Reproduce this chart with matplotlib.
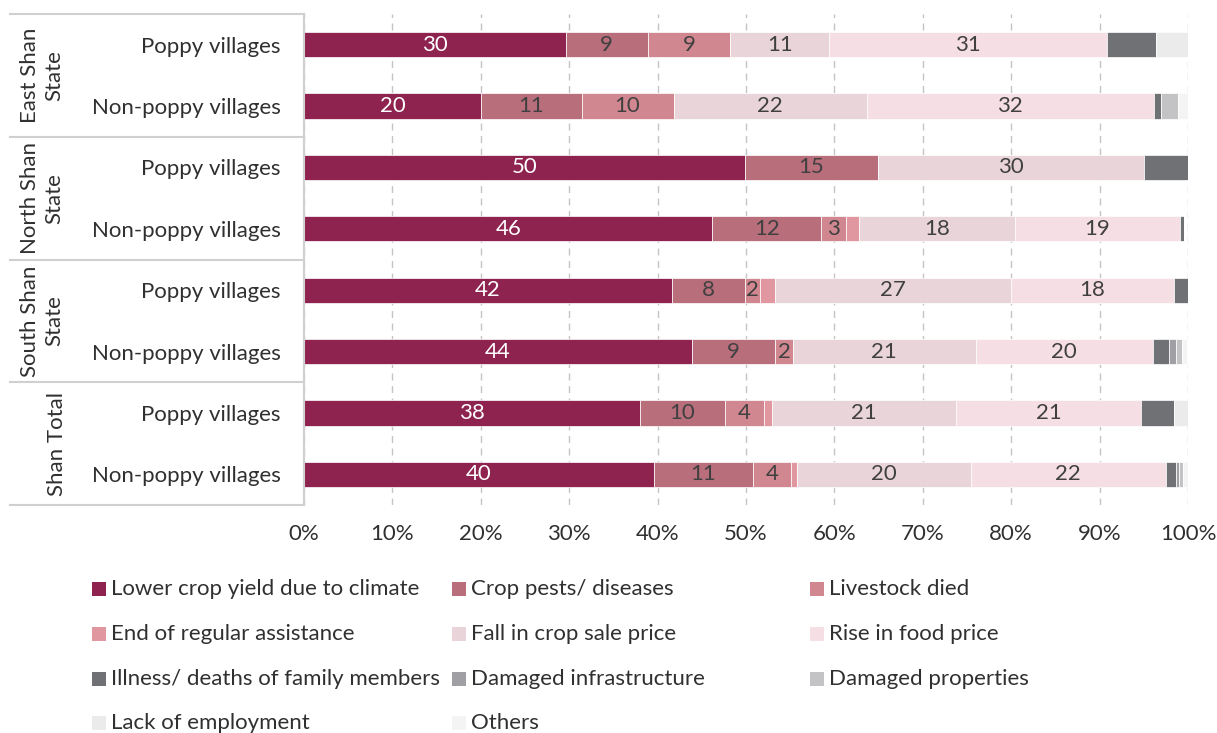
import matplotlib
matplotlib.use("Agg")
import matplotlib.pyplot as plt
import matplotlib.transforms as mtransforms
from matplotlib.lines import Line2D
from matplotlib.patches import Rectangle
import numpy as np

plt.rcParams['font.family'] = ['Lato', 'DejaVu Sans']

# Row groups and the two village types inside each
regions = ["East Shan\nState", "North Shan\nState", "South Shan\nState", "Shan Total"]
village_types = ["Poppy villages", "Non-poppy villages"]

causes = [
    "Lower crop yield due to climate", "Crop pests/ diseases", "Livestock died",
    "End of regular assistance", "Fall in crop sale price", "Rise in food price",
    "Illness/ deaths of family members", "Damaged infrastructure", "Damaged properties",
    "Lack of employment", "Others",
]
colors = [
    "#8E2350", "#B86E7B", "#D0878F",
    "#E0979F", "#E9D5D9", "#F5DEE4",
    "#707175", "#A0A0A4", "#C3C3C5",
    "#EBEBEB", "#F4F4F4",
]

# Share of households (%) per cause; order of rows:
# East P, East NP, North P, North NP, South P, South NP, Total P, Total NP
lower_yield = [29.6, 20.0, 49.9, 46.2, 41.6, 43.9, 38.0, 39.6]
pests       = [9.3, 11.4, 15.0, 12.3, 8.3, 9.4, 9.6, 11.2]
livestock   = [9.3, 10.4, 0.0, 2.8, 1.7, 2.0, 4.4, 4.3]
end_assist  = [0.0, 0.0, 0.0, 1.5, 1.7, 0.0, 0.9, 0.7]
fall_price  = [11.2, 21.9, 30.1, 17.6, 26.7, 20.7, 20.9, 19.6]
rise_price  = [31.4, 32.4, 0.0, 18.7, 18.4, 20.0, 20.9, 22.1]
illness     = [5.6, 0.9, 5.0, 0.5, 1.6, 1.9, 3.7, 1.1]
infra       = [0.0, 0.0, 0.0, 0.0, 0.0, 0.7, 0.0, 0.4]
properties  = [0.0, 1.9, 0.0, 0.0, 0.0, 0.7, 0.0, 0.4]
employment  = [3.6, 0.0, 0.0, 0.0, 0.0, 0.0, 1.6, 0.0]
others      = [0.0, 1.1, 0.0, 0.0, 0.0, 0.6, 0.0, 0.6]

series = [lower_yield, pests, livestock, end_assist, fall_price, rise_price,
          illness, infra, properties, employment, others]
labelled = {0, 1, 2, 4, 5}

W, H = 1217, 733
fig = plt.figure(figsize=(W / 100, H / 100), dpi=100)
ax = fig.add_axes([304 / W, 1 - 505 / H, (1188 - 304) / W, (505 - 14) / H])

n_rows = len(lower_yield)
y = np.arange(n_rows)
left = np.zeros(n_rows)
FS = 16
TXT = "#303030"
for i, (vals, col) in enumerate(zip(series, colors)):
    vals = np.asarray(vals, dtype=float)
    bars = ax.barh(y, vals, left=left, height=0.41, color=col,
                   edgecolor="white", linewidth=0.5, label=causes[i])
    if i in labelled:
        txt = ["{:.0f}".format(v) if v > 0 else "" for v in vals]
        ax.bar_label(bars, labels=txt, label_type="center", fontsize=FS,
                     color="white" if i == 0 else "#404040")
    left += vals

ax.set_xlim(0, 100)
ax.set_ylim(n_rows - 0.5, -0.5)
ax.set_xticks(np.arange(0, 101, 10))
ax.set_xticklabels([f"{t}%" for t in range(0, 101, 10)], fontsize=FS, color=TXT)
ax.set_yticks(y)
ax.set_yticklabels(village_types * len(regions), fontsize=FS, color=TXT)
ax.tick_params(axis="x", length=0, pad=14)
ax.tick_params(axis="y", length=0, pad=17)
ax.set_axisbelow(True)
ax.grid(axis="x", color="#C4C4C4", linestyle=(0, (5, 4)), linewidth=1)
for s in ("top", "right", "bottom"):
    ax.spines[s].set_visible(False)
ax.spines["left"].set_color("#D0D0D0")
ax.spines["left"].set_linewidth(1.5)

# Group separators and region names in the left margin
tr = mtransforms.blended_transform_factory(fig.transFigure, ax.transData)
for b in np.arange(-0.5, n_rows, 2):
    fig.add_artist(Line2D([10 / W, 304 / W], [b, b], transform=tr,
                          color="#D0D0D0", linewidth=1.5))
for g, name in enumerate(regions):
    xc = 42 / W if "\n" in name else 57 / W
    fig.text(xc, 2 * g + 0.5, name, transform=tr, rotation=90, ha="center",
             va="center", multialignment="center", fontsize=FS, color=TXT,
             linespacing=1.3)

# Legend laid out row by row in three columns
col_x = [92, 452, 810]
row_y = [589, 634, 679, 723]
for k, (name, col) in enumerate(zip(causes, colors)):
    r, c = divmod(k, 3)
    x0, y0 = col_x[c], row_y[r]
    fig.add_artist(Rectangle((x0 / W, 1 - (y0 + 7) / H), 14 / W, 14 / H,
                             transform=fig.transFigure, facecolor=col, edgecolor="none"))
    fig.text((x0 + 19) / W, 1 - y0 / H, name, ha="left", va="center",
             fontsize=FS, color=TXT)

fig.savefig("out.png", dpi=100)
